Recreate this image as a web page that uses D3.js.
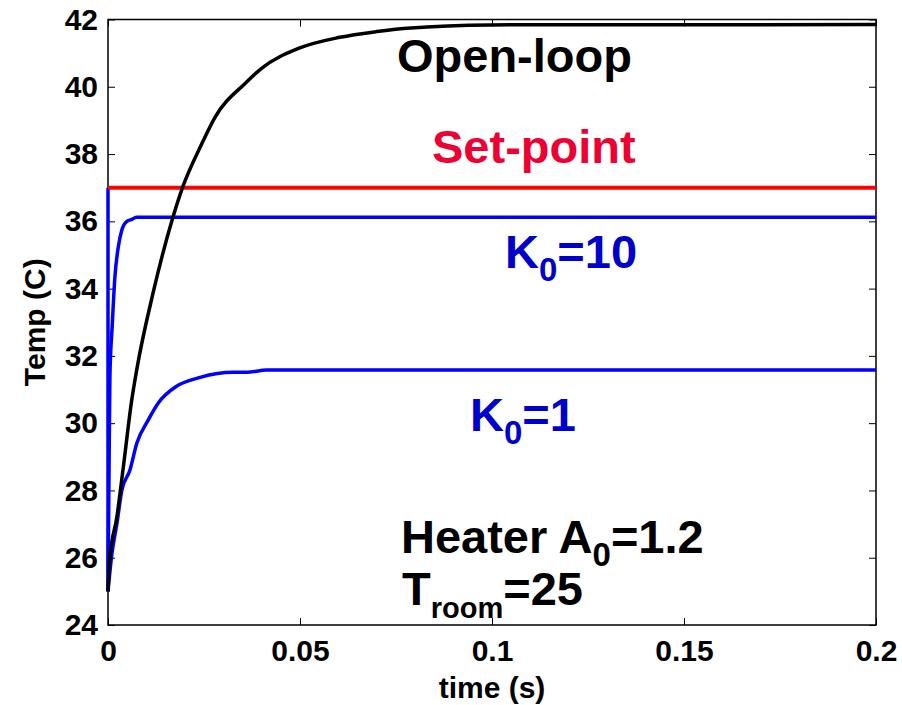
<!DOCTYPE html>
<html>
<head>
<meta charset="utf-8">
<script src="https://cdn.jsdelivr.net/npm/d3@7"></script>
<style>
  body { margin: 0; background: #fff; }
  svg { display: block; }
  text { font-family: "Liberation Sans", Arial, Helvetica, sans-serif; font-weight: bold; }
</style>
</head>
<body>
<svg id="chart" width="902" height="705"></svg>
<script>
// ---- data ----
const xTicks = [0, 0.05, 0.1, 0.15, 0.2];
const xTickLabels = ["0", "0.05", "0.1", "0.15", "0.2"];
const yTicks = [24, 26, 28, 30, 32, 34, 36, 38, 40, 42];
const yTickLabels = ["24", "26", "28", "30", "32", "34", "36", "38", "40", "42"];

// time (s), temperature (C)
const openLoop = [
  [0, 25.0], [0.0005, 26.0], [0.0023, 27.2], [0.004, 28.7], [0.0062, 30.7],
  [0.0075, 31.6], [0.0118, 33.9], [0.0166, 36.0], [0.0194, 37.0], [0.0244, 38.3],
  [0.0279, 39.1], [0.0357, 40.1], [0.040, 40.55], [0.0496, 41.14], [0.0604, 41.47],
  [0.070, 41.64], [0.0778, 41.74], [0.0995, 41.84], [0.2, 41.85]
];
const k10 = [
  [0, 25.0], [0.0003, 29.0], [0.0005, 31.4], [0.0011, 32.9], [0.0018, 34.35],
  [0.0027, 35.25], [0.0036, 35.74], [0.0049, 36.0], [0.006, 36.05], [0.0075, 36.12],
  [0.2, 36.12]
];
const k1 = [
  [0, 25.0], [0.001, 26.1], [0.0023, 27.0], [0.0036, 28.0], [0.0057, 28.6],
  [0.0075, 29.4], [0.0105, 30.1], [0.0131, 30.6], [0.0179, 31.1], [0.024, 31.36],
  [0.0326, 31.51], [0.036, 31.51], [0.0413, 31.58], [0.2, 31.58]
];
const initialStep = [[0, 25.0], [0, 37.0]];
const setPoint = [[0, 37.0], [0.2, 37.0]];

// ---- layout ----
const svg = d3.select("#chart");
const L = 108, R = 876, T = 19.5, B = 625;
const x = d3.scaleLinear().domain([0, 0.2]).range([L, R]);
const y = d3.scaleLinear().domain([24, 42]).range([B, T]);

const smooth = d3.line().x(d => x(d[0])).y(d => y(d[1])).curve(d3.curveMonotoneX);
const straight = d3.line().x(d => x(d[0])).y(d => y(d[1]));

// axes (inward ticks, box)
const fmtX = (d, i) => xTickLabels[i];
const fmtY = (d, i) => yTickLabels[i];
function styleAxis(g) {
  g.select(".domain").remove();
  g.selectAll(".tick line").attr("stroke", "#000").attr("stroke-width", 1);
}
svg.append("g").attr("transform", `translate(0,${B})`)
  .call(d3.axisBottom(x).tickValues(xTicks).tickFormat(fmtX).tickSizeInner(-7).tickSizeOuter(0).tickPadding(15))
  .call(styleAxis)
  .selectAll("text").attr("font-size", 30).attr("font-family", "Liberation Sans, Arial, sans-serif")
  .attr("font-weight", "bold").attr("fill", "#000");
svg.append("g").attr("transform", `translate(0,${T})`)
  .call(d3.axisTop(x).tickValues(xTicks).tickFormat("").tickSizeInner(-7).tickSizeOuter(0))
  .call(styleAxis);
svg.append("g").attr("transform", `translate(${L},0)`)
  .call(d3.axisLeft(y).tickValues(yTicks).tickFormat(fmtY).tickSizeInner(-7).tickSizeOuter(0).tickPadding(10))
  .call(styleAxis)
  .selectAll("text").attr("font-size", 30).attr("font-family", "Liberation Sans, Arial, sans-serif")
  .attr("font-weight", "bold").attr("fill", "#000");
svg.append("g").attr("transform", `translate(${R},0)`)
  .call(d3.axisRight(y).tickValues(yTicks).tickFormat("").tickSizeInner(-7).tickSizeOuter(0))
  .call(styleAxis);

svg.append("rect").attr("x", L).attr("y", T).attr("width", R - L).attr("height", B - T)
  .attr("fill", "none").attr("stroke", "#000").attr("stroke-width", 1.5);

// curves
const plot = svg.append("g");
plot.append("path").datum(k1).attr("d", smooth)
  .attr("fill", "none").attr("stroke", "#0000ff").attr("stroke-width", 3.5).attr("stroke-linejoin", "round");
plot.append("path").datum(k10).attr("d", smooth)
  .attr("fill", "none").attr("stroke", "#0000ff").attr("stroke-width", 3.5).attr("stroke-linejoin", "round");
plot.append("path").datum(initialStep).attr("d", straight)
  .attr("fill", "none").attr("stroke", "#0000ff").attr("stroke-width", 3.5);
plot.append("path").datum(setPoint).attr("d", straight)
  .attr("fill", "none").attr("stroke", "#ff0000").attr("stroke-width", 4);
plot.append("path").datum(openLoop).attr("d", smooth)
  .attr("fill", "none").attr("stroke", "#000000").attr("stroke-width", 3.5).attr("stroke-linejoin", "round");

// axis titles
svg.append("text").attr("x", (L + R) / 2).attr("y", 698).attr("text-anchor", "middle")
  .attr("font-size", 30).attr("fill", "#000").text("time (s)");
svg.append("text").attr("transform", `translate(45,${(T + B) / 2}) rotate(-90)`)
  .attr("text-anchor", "middle").attr("font-size", 30).attr("fill", "#000").text("Temp (C)");

// annotations
function label(xp, yp, color, parts, subSize) {
  const t = svg.append("text").attr("x", xp).attr("y", yp).attr("fill", color).attr("font-size", 47);
  let shift = 0;
  parts.forEach(p => {
    const ts = t.append("tspan").text(p.t);
    if (p.sub) { ts.attr("font-size", subSize).attr("dy", 13 - shift); shift = 13; }
    else if (shift) { ts.attr("dy", -shift); shift = 0; }
  });
}
label(397, 72, "#000000", [{t: "Open-loop"}]);
label(432, 163, "#ee0033", [{t: "Set-point"}]);
label(505, 268, "#0000cc", [{t: "K"}, {t: "0", sub: true}, {t: "=10"}], 33);
label(470, 431, "#0000cc", [{t: "K"}, {t: "0", sub: true}, {t: "=1"}], 33);
label(401, 553, "#000000", [{t: "Heater A"}, {t: "0", sub: true}, {t: "=1.2"}], 33);
label(402, 605, "#000000", [{t: "T"}, {t: "room", sub: true}, {t: "=25"}], 29);
</script>
</body>
</html>
